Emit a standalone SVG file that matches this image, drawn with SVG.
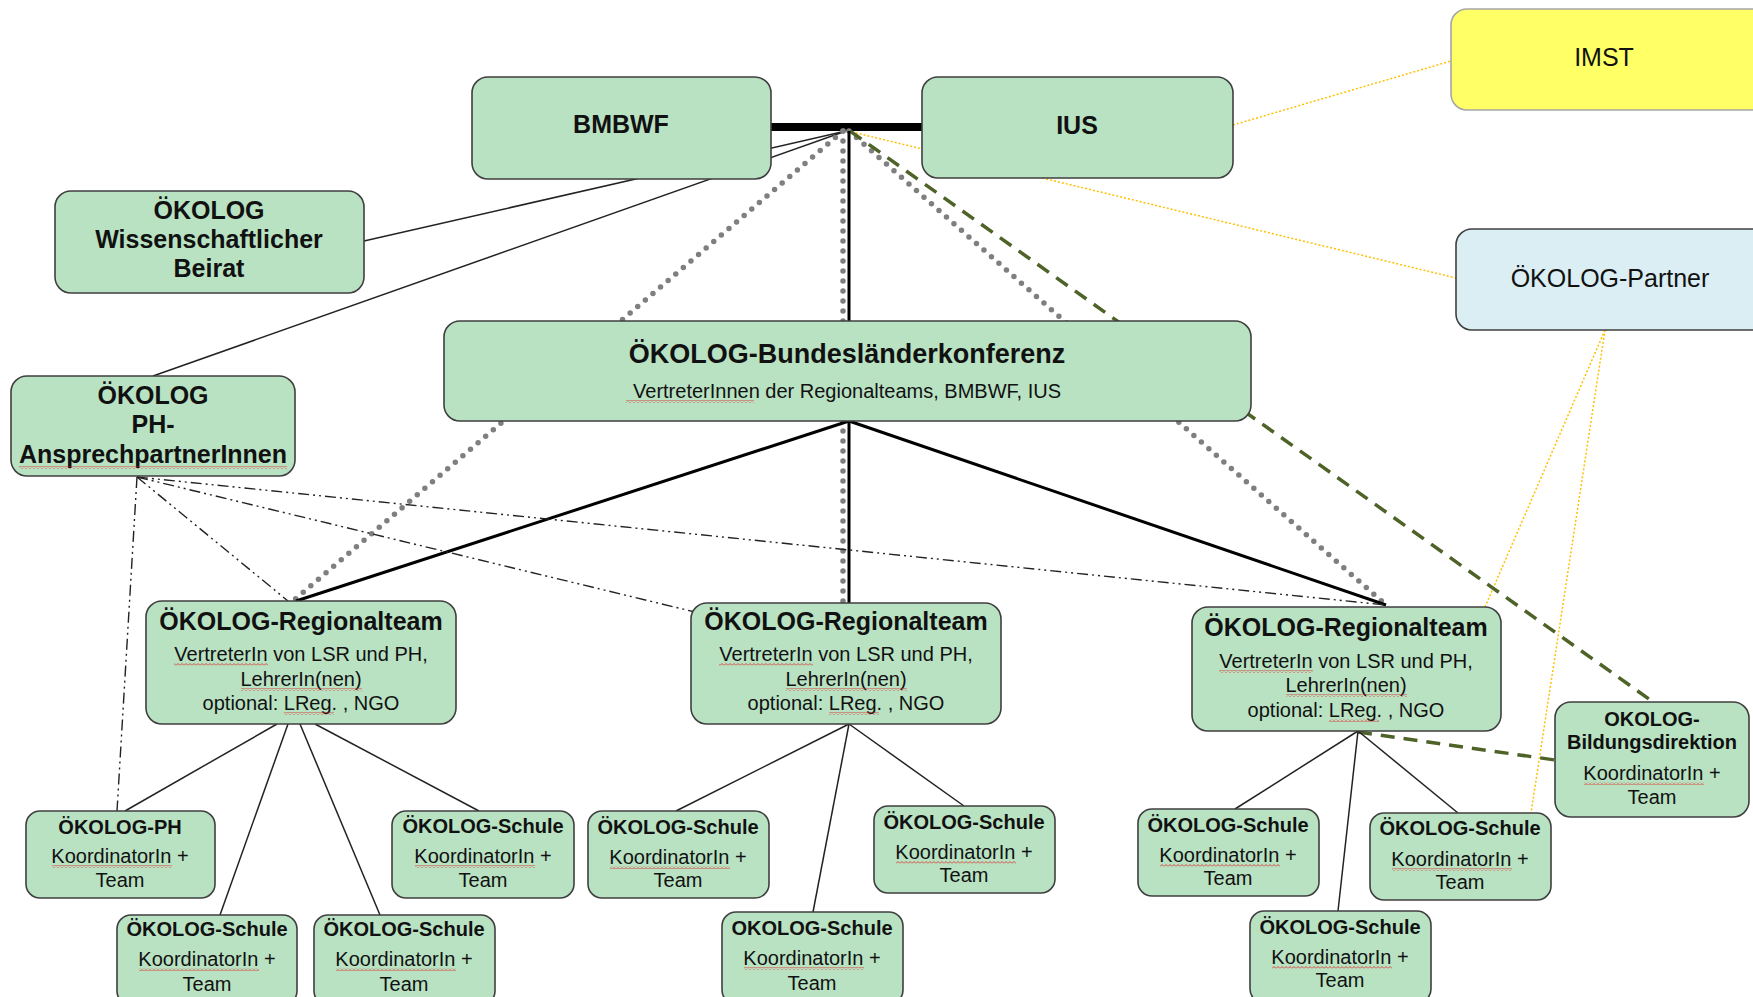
<svg xmlns="http://www.w3.org/2000/svg" width="1753" height="997" viewBox="0 0 1753 997">
<defs>
<style>
.n{fill:#B9E2C3;stroke:#3F3F3F;stroke-width:1.6}
.imst{fill:#FFFF66;stroke:#A6A6A6;stroke-width:1.6}
.part{fill:#DAEEF3;stroke:#3F3F3F;stroke-width:1.6}
text{font-family:"Liberation Sans",Arial,sans-serif;text-anchor:middle;fill:#111}
.b25{font-size:25px;font-weight:bold}
.r25{font-size:25px}
.b20{font-size:20px;font-weight:bold}
.r20{font-size:20px}
.thin{stroke:#222;stroke-width:1.5;fill:none}
.thick{stroke:#000;stroke-width:3;fill:none}
.dots{stroke:#7F7F7F;stroke-width:5.5;stroke-dasharray:0 10;stroke-linecap:round;fill:none}
.green{stroke:#4F6228;stroke-width:3.5;stroke-dasharray:14 9;fill:none}
.orange{stroke:#FFC000;stroke-width:1.5;stroke-dasharray:2 2;fill:none}
.dd{stroke:#222;stroke-width:1.4;stroke-dasharray:11 4 2 4 2 4;fill:none}
.sq{fill:url(#sqp)}
</style>
<pattern id="sqp" width="4" height="3" patternUnits="userSpaceOnUse">
<path d="M0,2.5 L2,0.5 L4,2.5" stroke="#E02020" stroke-width="0.8" fill="none"/>
</pattern>
</defs>
<rect width="1753" height="997" fill="#fff"/>
<g id="connectors">
<line x1="771" y1="127" x2="922" y2="127" stroke="#000" stroke-width="8"/>
<line class="thin" x1="846" y1="131" x2="364" y2="241"/>
<line class="thin" x1="846" y1="131" x2="153" y2="376"/>
<line class="orange" x1="848" y1="131" x2="1456" y2="278"/>
<line class="orange" x1="1233" y1="125" x2="1451" y2="61"/>
<line class="orange" x1="1605" y1="330" x2="1485" y2="607"/>
<line class="orange" x1="1605" y1="330" x2="1531" y2="813"/>
<line class="dots" x1="843" y1="131" x2="293" y2="601"/>
<line class="dots" x1="843" y1="131" x2="843" y2="603"/>
<line class="dots" x1="849" y1="131" x2="1386" y2="605"/>
<line class="green" x1="850" y1="131" x2="1649" y2="699"/>
<line class="green" x1="1358" y1="732" x2="1555" y2="760"/>
<line class="thick" x1="849" y1="131" x2="849" y2="321"/>
<line class="thick" x1="849" y1="421" x2="296" y2="601"/>
<line class="thick" x1="849" y1="421" x2="849" y2="603"/>
<line class="thick" x1="849" y1="421" x2="1386" y2="605"/>
<line class="dd" x1="137" y1="477" x2="117" y2="811"/>
<line class="dd" x1="137" y1="477" x2="288" y2="601"/>
<line class="dd" x1="137" y1="477" x2="695" y2="612"/>
<line class="dd" x1="137" y1="477" x2="1386" y2="605"/>
<line class="thin" x1="277" y1="724" x2="125" y2="811"/>
<line class="thin" x1="288" y1="724" x2="220" y2="915"/>
<line class="thin" x1="300" y1="724" x2="380" y2="915"/>
<line class="thin" x1="315" y1="724" x2="479" y2="811"/>
<line class="thin" x1="849" y1="724" x2="676" y2="811"/>
<line class="thin" x1="849" y1="724" x2="813" y2="912"/>
<line class="thin" x1="849" y1="724" x2="964" y2="806"/>
<line class="thin" x1="1358" y1="731" x2="1235" y2="809"/>
<line class="thin" x1="1358" y1="731" x2="1338" y2="911"/>
<line class="thin" x1="1358" y1="731" x2="1458" y2="813"/>
</g>
<g id="bmbwf"><rect class="n" x="472" y="77" width="299" height="102" rx="16"/><text class="b25" x="621" y="133">BMBWF</text></g>
<g id="ius"><rect class="n" x="922" y="77" width="311" height="101" rx="16"/><text class="b25" x="1077" y="134">IUS</text></g>
<g id="imst"><rect class="imst" x="1451" y="9" width="330" height="101" rx="16"/><text class="r25" x="1604" y="66">IMST</text></g>
<g id="partner"><rect class="part" x="1456" y="229" width="320" height="101" rx="16"/><text class="r25" x="1610" y="287">ÖKOLOG-Partner</text></g>
<g id="beirat"><rect class="n" x="55" y="191" width="309" height="102" rx="16"/>
<text class="b25" x="209" y="219">ÖKOLOG</text><text class="b25" x="209" y="248">Wissenschaftlicher</text><text class="b25" x="209" y="277">Beirat</text></g>
<g id="ph-ansprech"><rect class="n" x="11" y="376" width="284" height="100" rx="16"/>
<text class="b25" x="153" y="404">ÖKOLOG</text><text class="b25" x="153" y="433">PH-</text><text class="b25" x="153" y="463">AnsprechpartnerInnen</text></g>
<g id="konferenz"><rect class="n" x="444" y="321" width="807" height="100" rx="16"/>
<text class="b25" x="847" y="363" style="font-size:27px">ÖKOLOG-Bundesländerkonferenz</text>
<text class="r20" x="847" y="398">VertreterInnen der Regionalteams, BMBWF, IUS</text></g>
<g id="rt1"><rect class="n" x="146" y="601" width="310" height="123" rx="16"/>
<text class="b25" x="301" y="630">ÖKOLOG-Regionalteam</text><text class="r20" x="301" y="661">VertreterIn von LSR und PH,</text><text class="r20" x="301" y="686">LehrerIn(nen)</text><text class="r20" x="301" y="710">optional: LReg. , NGO</text></g>
<g id="rt2"><rect class="n" x="691" y="603" width="310" height="121" rx="16"/>
<text class="b25" x="846" y="630">ÖKOLOG-Regionalteam</text><text class="r20" x="846" y="661">VertreterIn von LSR und PH,</text><text class="r20" x="846" y="686">LehrerIn(nen)</text><text class="r20" x="846" y="710">optional: LReg. , NGO</text></g>
<g id="rt3"><rect class="n" x="1192" y="607" width="309" height="124" rx="16"/>
<text class="b25" x="1346" y="636">ÖKOLOG-Regionalteam</text><text class="r20" x="1346" y="668">VertreterIn von LSR und PH,</text><text class="r20" x="1346" y="692">LehrerIn(nen)</text><text class="r20" x="1346" y="717">optional: LReg. , NGO</text></g>
<g id="bildungsdirektion"><rect class="n" x="1555" y="702" width="194" height="115" rx="16"/>
<text class="b20" x="1652" y="726">OKOLOG-</text><text class="b20" x="1652" y="749">Bildungsdirektion</text><text class="r20" x="1652" y="780">KoordinatorIn +</text><text class="r20" x="1652" y="804">Team</text></g>
<g id="oekolog-ph"><rect class="n" x="26" y="811" width="189" height="87" rx="14"/>
<text class="b20" x="120" y="834">ÖKOLOG-PH</text><text class="r20" x="120" y="863">KoordinatorIn +</text><text class="r20" x="120" y="887">Team</text></g>
<g id="schule-1a"><rect class="n" x="392" y="811" width="182" height="87" rx="14"/>
<text class="b20" x="483" y="833">ÖKOLOG-Schule</text><text class="r20" x="483" y="863">KoordinatorIn +</text><text class="r20" x="483" y="887">Team</text></g>
<g id="schule-1b"><rect class="n" x="117" y="915" width="180" height="90" rx="14"/>
<text class="b20" x="207" y="936">ÖKOLOG-Schule</text><text class="r20" x="207" y="966">KoordinatorIn +</text><text class="r20" x="207" y="991">Team</text></g>
<g id="schule-1c"><rect class="n" x="314" y="915" width="181" height="90" rx="14"/>
<text class="b20" x="404" y="936">ÖKOLOG-Schule</text><text class="r20" x="404" y="966">KoordinatorIn +</text><text class="r20" x="404" y="991">Team</text></g>
<g id="schule-2a"><rect class="n" x="588" y="811" width="181" height="87" rx="14"/>
<text class="b20" x="678" y="834">ÖKOLOG-Schule</text><text class="r20" x="678" y="864">KoordinatorIn +</text><text class="r20" x="678" y="887">Team</text></g>
<g id="schule-2b"><rect class="n" x="874" y="806" width="181" height="87" rx="14"/>
<text class="b20" x="964" y="829">ÖKOLOG-Schule</text><text class="r20" x="964" y="859">KoordinatorIn +</text><text class="r20" x="964" y="882">Team</text></g>
<g id="schule-2c"><rect class="n" x="722" y="912" width="181" height="92" rx="14"/>
<text class="b20" x="812" y="935">OKOLOG-Schule</text><text class="r20" x="812" y="965">KoordinatorIn +</text><text class="r20" x="812" y="990">Team</text></g>
<g id="schule-3a"><rect class="n" x="1138" y="809" width="181" height="87" rx="14"/>
<text class="b20" x="1228" y="832">ÖKOLOG-Schule</text><text class="r20" x="1228" y="862">KoordinatorIn +</text><text class="r20" x="1228" y="885">Team</text></g>
<g id="schule-3b"><rect class="n" x="1370" y="813" width="181" height="87" rx="14"/>
<text class="b20" x="1460" y="835">ÖKOLOG-Schule</text><text class="r20" x="1460" y="866">KoordinatorIn +</text><text class="r20" x="1460" y="889">Team</text></g>
<g id="schule-3c"><rect class="n" x="1250" y="911" width="181" height="92" rx="14"/>
<text class="b20" x="1340" y="934">ÖKOLOG-Schule</text><text class="r20" x="1340" y="964">KoordinatorIn +</text><text class="r20" x="1340" y="987">Team</text></g>
<g id="spellcheck">
<rect class="sq" x="19" y="466" width="268" height="3"/>
<rect class="sq" x="626" y="400" width="128" height="3"/>
<rect class="sq" x="174" y="663" width="94" height="3"/><rect class="sq" x="241" y="688" width="121" height="3"/><rect class="sq" x="284" y="712" width="50" height="3"/>
<rect class="sq" x="719" y="663" width="94" height="3"/><rect class="sq" x="786" y="688" width="121" height="3"/><rect class="sq" x="829" y="712" width="50" height="3"/>
<rect class="sq" x="1219" y="670" width="94" height="3"/><rect class="sq" x="1286" y="694" width="121" height="3"/><rect class="sq" x="1329" y="719" width="50" height="3"/>
<rect class="sq" x="1584" y="782" width="120" height="3"/>
<rect class="sq" x="52" y="865" width="120" height="3"/>
<rect class="sq" x="415" y="865" width="120" height="3"/>
<rect class="sq" x="139" y="968" width="120" height="3"/>
<rect class="sq" x="336" y="968" width="120" height="3"/>
<rect class="sq" x="610" y="866" width="120" height="3"/>
<rect class="sq" x="896" y="861" width="120" height="3"/>
<rect class="sq" x="744" y="967" width="120" height="3"/>
<rect class="sq" x="1160" y="864" width="120" height="3"/>
<rect class="sq" x="1392" y="868" width="120" height="3"/>
<rect class="sq" x="1272" y="966" width="120" height="3"/>
</g>
</svg>
